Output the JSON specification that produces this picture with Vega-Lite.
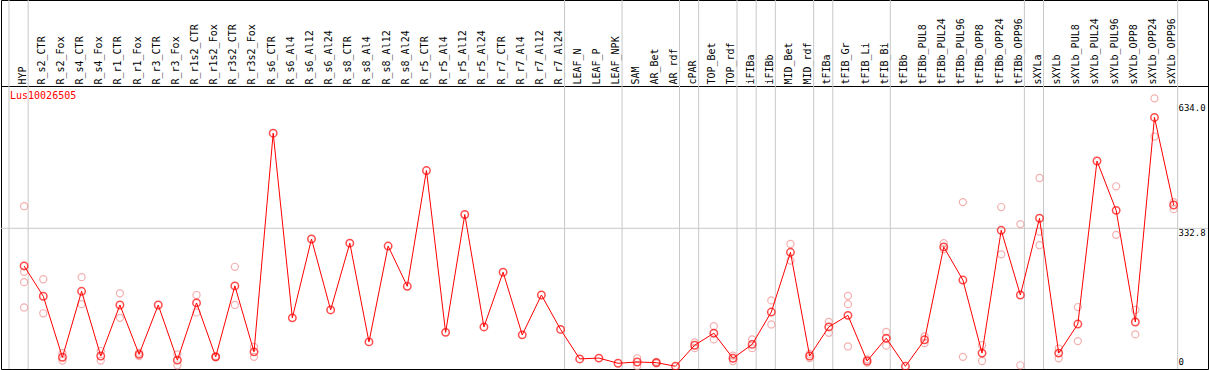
{
  "$schema": "https://vega.github.io/schema/vega-lite/v6.json",
  "width": 1207,
  "height": 369,
  "autosize": "none",
  "padding": {"left": 1, "top": 0, "right": 1, "bottom": 1},
  "background": "white",
  "config": {
    "view": {"stroke": "black", "strokeWidth": 1},
    "font": "DejaVu Sans Mono"
  },
  "title": {
    "text": "Lus10026505",
    "color": "red",
    "font": "DejaVu Sans Mono",
    "fontSize": 10,
    "fontWeight": "normal",
    "anchor": "start",
    "frame": "group",
    "orient": "top",
    "baseline": "top",
    "offset": -101,
    "dx": 9
  },
  "datasets": {
    "means": [
      {"col": "HYP", "value": 242},
      {"col": "R_s2_CTR", "value": 169},
      {"col": "R_s2_Fox", "value": 22},
      {"col": "R_s4_CTR", "value": 181},
      {"col": "R_s4_Fox", "value": 25},
      {"col": "R_r1_CTR", "value": 148},
      {"col": "R_r1_Fox", "value": 29},
      {"col": "R_r3_CTR", "value": 148},
      {"col": "R_r3_Fox", "value": 15},
      {"col": "R_r1s2_CTR", "value": 153},
      {"col": "R_r1s2_Fox", "value": 23},
      {"col": "R_r3s2_CTR", "value": 194},
      {"col": "R_r3s2_Fox", "value": 35},
      {"col": "R_s6_CTR", "value": 562},
      {"col": "R_s6_Al4", "value": 117},
      {"col": "R_s6_Al12", "value": 307},
      {"col": "R_s6_Al24", "value": 136},
      {"col": "R_s8_CTR", "value": 297},
      {"col": "R_s8_Al4", "value": 59},
      {"col": "R_s8_Al12", "value": 290},
      {"col": "R_s8_Al24", "value": 193},
      {"col": "R_r5_CTR", "value": 472},
      {"col": "R_r5_Al4", "value": 82},
      {"col": "R_r5_Al12", "value": 366},
      {"col": "R_r5_Al24", "value": 95},
      {"col": "R_r7_CTR", "value": 227},
      {"col": "R_r7_Al4", "value": 76},
      {"col": "R_r7_Al12", "value": 172},
      {"col": "R_r7_Al24", "value": 89},
      {"col": "LEAF_N", "value": 18},
      {"col": "LEAF_P", "value": 20},
      {"col": "LEAF_NPK", "value": 7.5},
      {"col": "SAM", "value": 10.6},
      {"col": "AR_Bet", "value": 9},
      {"col": "AR_rdf", "value": 0.3},
      {"col": "cPAR", "value": 51},
      {"col": "TOP_Bet", "value": 80},
      {"col": "TOP_rdf", "value": 19.5},
      {"col": "iFIBa", "value": 53},
      {"col": "iFIBb", "value": 131},
      {"col": "MID_Bet", "value": 275},
      {"col": "MID_rdf", "value": 25},
      {"col": "tFIBa", "value": 95},
      {"col": "tFIB_Gr", "value": 123},
      {"col": "tFIB_Li", "value": 13},
      {"col": "tFIB_Bi", "value": 68},
      {"col": "tFIBb", "value": 0.2},
      {"col": "tFIBb_PUL8", "value": 64},
      {"col": "tFIBb_PUL24", "value": 288},
      {"col": "tFIBb_PUL96", "value": 208},
      {"col": "tFIBb_OPP8", "value": 32},
      {"col": "tFIBb_OPP24", "value": 328},
      {"col": "tFIBb_OPP96", "value": 172},
      {"col": "sXYLa", "value": 357},
      {"col": "sXYLb", "value": 32},
      {"col": "sXYLb_PUL8", "value": 102},
      {"col": "sXYLb_PUL24", "value": 495},
      {"col": "sXYLb_PUL96", "value": 376},
      {"col": "sXYLb_OPP8", "value": 107},
      {"col": "sXYLb_OPP24", "value": 600},
      {"col": "sXYLb_OPP96", "value": 389}
    ],
    "reps": [
      {"col": "HYP", "value": 386},
      {"col": "HYP", "value": 228},
      {"col": "HYP", "value": 203},
      {"col": "HYP", "value": 142},
      {"col": "R_s2_CTR", "value": 210},
      {"col": "R_s2_CTR", "value": 128},
      {"col": "R_s2_Fox", "value": 32},
      {"col": "R_s2_Fox", "value": 14},
      {"col": "R_s4_CTR", "value": 215},
      {"col": "R_s4_CTR", "value": 150},
      {"col": "R_s4_Fox", "value": 37},
      {"col": "R_s4_Fox", "value": 14},
      {"col": "R_r1_CTR", "value": 176},
      {"col": "R_r1_CTR", "value": 117},
      {"col": "R_r1_Fox", "value": 33},
      {"col": "R_r1_Fox", "value": 25},
      {"col": "R_r3_Fox", "value": 29},
      {"col": "R_r3_Fox", "value": 2.6},
      {"col": "R_r1s2_CTR", "value": 172},
      {"col": "R_r1s2_CTR", "value": 130},
      {"col": "R_r1s2_Fox", "value": 25},
      {"col": "R_r1s2_Fox", "value": 22},
      {"col": "R_r3s2_CTR", "value": 240},
      {"col": "R_r3s2_CTR", "value": 148},
      {"col": "R_r3s2_Fox", "value": 47},
      {"col": "R_r3s2_Fox", "value": 23},
      {"col": "SAM", "value": 19.5},
      {"col": "SAM", "value": 1},
      {"col": "AR_Bet", "value": 11},
      {"col": "AR_Bet", "value": 7},
      {"col": "cPAR", "value": 58},
      {"col": "cPAR", "value": 44},
      {"col": "TOP_Bet", "value": 97},
      {"col": "TOP_Bet", "value": 65},
      {"col": "TOP_rdf", "value": 26},
      {"col": "TOP_rdf", "value": 13},
      {"col": "iFIBa", "value": 65},
      {"col": "iFIBa", "value": 44},
      {"col": "iFIBb", "value": 159},
      {"col": "iFIBb", "value": 101},
      {"col": "MID_Bet", "value": 295},
      {"col": "MID_Bet", "value": 255},
      {"col": "MID_rdf", "value": 30},
      {"col": "MID_rdf", "value": 20},
      {"col": "tFIBa", "value": 107},
      {"col": "tFIBa", "value": 81},
      {"col": "tFIB_Gr", "value": 170},
      {"col": "tFIB_Gr", "value": 150},
      {"col": "tFIB_Gr", "value": 48},
      {"col": "tFIB_Li", "value": 17},
      {"col": "tFIB_Li", "value": 9},
      {"col": "tFIB_Bi", "value": 83},
      {"col": "tFIB_Bi", "value": 50},
      {"col": "tFIBb_PUL8", "value": 72},
      {"col": "tFIBb_PUL8", "value": 56},
      {"col": "tFIBb_PUL24", "value": 297},
      {"col": "tFIBb_PUL24", "value": 282},
      {"col": "tFIBb_PUL96", "value": 396},
      {"col": "tFIBb_PUL96", "value": 23},
      {"col": "tFIBb_OPP8", "value": 51},
      {"col": "tFIBb_OPP8", "value": 13},
      {"col": "tFIBb_OPP24", "value": 384},
      {"col": "tFIBb_OPP24", "value": 270},
      {"col": "tFIBb_OPP96", "value": 343},
      {"col": "tFIBb_OPP96", "value": 2.6},
      {"col": "sXYLa", "value": 454},
      {"col": "sXYLa", "value": 325},
      {"col": "sXYLa", "value": 292},
      {"col": "sXYLb", "value": 43},
      {"col": "sXYLb", "value": 19.5},
      {"col": "sXYLb_PUL8", "value": 143},
      {"col": "sXYLb_PUL8", "value": 61},
      {"col": "sXYLb_PUL96", "value": 434},
      {"col": "sXYLb_PUL96", "value": 317},
      {"col": "sXYLb_OPP8", "value": 136},
      {"col": "sXYLb_OPP8", "value": 77},
      {"col": "sXYLb_OPP24", "value": 646},
      {"col": "sXYLb_OPP24", "value": 554},
      {"col": "sXYLb_OPP96", "value": 396},
      {"col": "sXYLb_OPP96", "value": 379}
    ],
    "groupStarts": [
      {"col": "HYP"}, {"col": "R_s2_CTR"}, {"col": "LEAF_N"}, {"col": "SAM"},
      {"col": "cPAR"}, {"col": "TOP_Bet"}, {"col": "iFIBa"}, {"col": "iFIBb"},
      {"col": "MID_Bet"}, {"col": "tFIBa"}, {"col": "tFIB_Gr"}, {"col": "tFIBb"},
      {"col": "sXYLa"}, {"col": "sXYLb"}
    ],
    "groupEnd": [{"col": "sXYLb_OPP96"}],
    "hgrid": [{"value": 332.8}]
  },
  "layer": [
    {
      "data": {"name": "hgrid"},
      "mark": {"type": "rule", "color": "#c8c8c8", "strokeWidth": 1},
      "encoding": {"y": {"field": "value", "type": "quantitative"}}
    },
    {
      "data": {"name": "groupStarts"},
      "mark": {"type": "rule", "color": "#c8c8c8", "strokeWidth": 1},
      "encoding": {"x": {"field": "col", "type": "nominal", "bandPosition": 0}}
    },
    {
      "data": {"name": "groupEnd"},
      "mark": {"type": "rule", "color": "#c8c8c8", "strokeWidth": 1},
      "encoding": {"x": {"field": "col", "type": "nominal", "bandPosition": 1}}
    },
    {
      "data": {"name": "reps"},
      "mark": {"type": "point", "shape": "circle", "filled": false, "color": "#f09090", "strokeWidth": 1.2, "size": 50},
      "encoding": {
        "x": {"field": "col", "type": "nominal", "bandPosition": 0.79},
        "y": {"field": "value", "type": "quantitative"}
      }
    },
    {
      "data": {"name": "means"},
      "mark": {"type": "line", "color": "#ff0000", "strokeWidth": 1},
      "encoding": {
        "x": {
          "field": "col",
          "type": "nominal",
          "bandPosition": 0.79,
          "scale": {
            "type": "band",
            "domain": ["HYP", "R_s2_CTR", "R_s2_Fox", "R_s4_CTR", "R_s4_Fox", "R_r1_CTR", "R_r1_Fox", "R_r3_CTR", "R_r3_Fox", "R_r1s2_CTR", "R_r1s2_Fox", "R_r3s2_CTR", "R_r3s2_Fox", "R_s6_CTR", "R_s6_Al4", "R_s6_Al12", "R_s6_Al24", "R_s8_CTR", "R_s8_Al4", "R_s8_Al12", "R_s8_Al24", "R_r5_CTR", "R_r5_Al4", "R_r5_Al12", "R_r5_Al24", "R_r7_CTR", "R_r7_Al4", "R_r7_Al12", "R_r7_Al24", "LEAF_N", "LEAF_P", "LEAF_NPK", "SAM", "AR_Bet", "AR_rdf", "cPAR", "TOP_Bet", "TOP_rdf", "iFIBa", "iFIBb", "MID_Bet", "MID_rdf", "tFIBa", "tFIB_Gr", "tFIB_Li", "tFIB_Bi", "tFIBb", "tFIBb_PUL8", "tFIBb_PUL24", "tFIBb_PUL96", "tFIBb_OPP8", "tFIBb_OPP24", "tFIBb_OPP96", "sXYLa", "sXYLb", "sXYLb_PUL8", "sXYLb_PUL24", "sXYLb_PUL96", "sXYLb_OPP8", "sXYLb_OPP24", "sXYLb_OPP96"],
            "paddingInner": 0,
            "paddingOuter": 1.2632,
            "align": 0.2083,
            "round": false
          },
          "axis": {
            "orient": "top",
            "offset": -86,
            "title": null,
            "labelAngle": -90,
            "labelAlign": "left",
            "labelBaseline": "middle",
            "labelFont": "DejaVu Sans Mono",
            "labelFontSize": 10,
            "labelColor": "black",
            "labelPadding": 2,
            "labelLimit": 200,
            "ticks": false,
            "grid": false,
            "domain": true,
            "domainColor": "black",
            "domainWidth": 1,
            "bandPosition": 0.5,
            "labelOffset": 4,
            "labelOverlap": false
          }
        },
        "y": {
          "field": "value",
          "type": "quantitative",
          "scale": {"domain": [-6.3, 883], "nice": false, "zero": false},
          "axis": {
            "orient": "right",
            "offset": -38,
            "title": null,
            "values": [0, 332.8, 634],
            "labelExpr": "datum.value == 0 ? '0' : format(datum.value, '.1f')",
            "labelFont": "DejaVu Sans Mono",
            "labelFontSize": 9,
            "labelColor": "black",
            "labelPadding": 8,
            "labelAlign": "left",
            "labelBaseline": {"condition": {"test": "datum.value == 0", "value": "bottom"}, "value": "top"},
            "ticks": false,
            "grid": false,
            "domain": false,
            "labelOverlap": false
          }
        }
      }
    },
    {
      "data": {"name": "means"},
      "mark": {"type": "point", "shape": "circle", "filled": false, "color": "#ff0000", "strokeWidth": 1.5, "size": 55},
      "encoding": {
        "x": {"field": "col", "type": "nominal", "bandPosition": 0.79},
        "y": {"field": "value", "type": "quantitative"}
      }
    }
  ]
}
